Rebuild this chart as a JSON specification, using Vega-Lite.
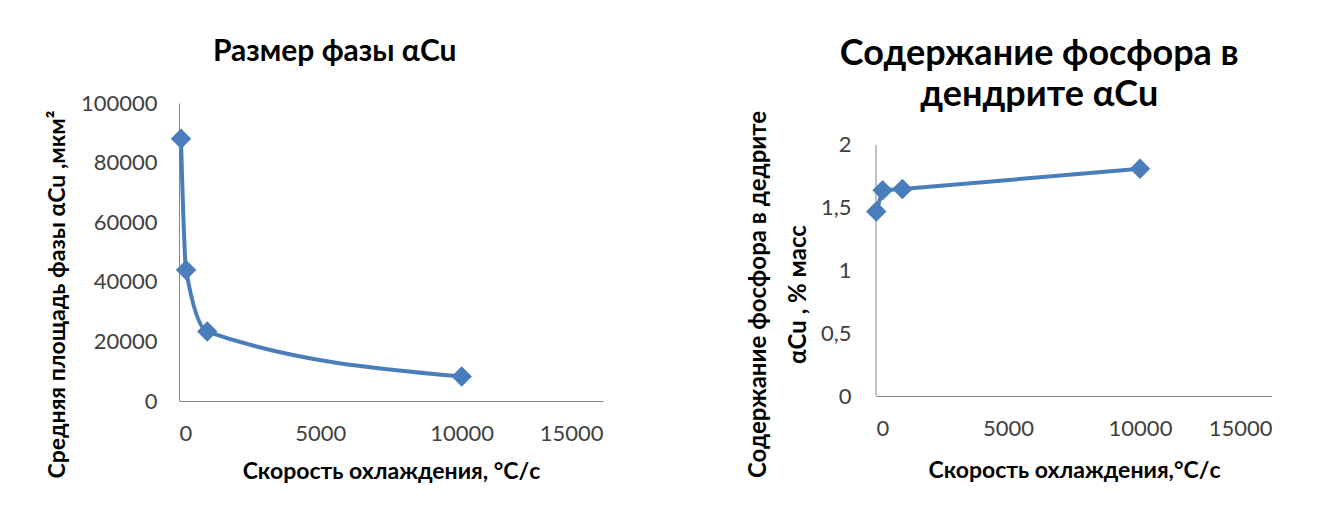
{
  "$schema": "https://vega.github.io/schema/vega-lite/v6.json",
  "background": "white",
  "padding": {"left": 46, "top": 36, "right": 0, "bottom": 0},
  "config": {
    "font": "Lato",
    "view": {"stroke": null},
    "axis": {
      "grid": false,
      "ticks": false,
      "domainColor": "#868686",
      "domainWidth": 1,
      "labelColor": "#404040",
      "labelFont": "Lato",
      "labelFontSize": 22,
      "labelPadding": 22,
      "titleFont": "Lato",
      "titleFontSize": 23,
      "titleFontWeight": "bold",
      "titleColor": "#000000"
    },
    "title": {"font": "Lato", "fontWeight": "bold", "color": "#000000", "anchor": "middle", "frame": "bounds", "lineHeight": 41}
  },
  "spacing": 143,
  "hconcat": [
    {
      "title": {"text": "Размер фазы αCu", "offset": 25, "dx": 10, "fontSize": 30},
      "width": 424,
      "height": 298,
      "data": {
        "values": [
          {"rate": 70, "area": 88000},
          {"rate": 250, "area": 44000},
          {"rate": 1000, "area": 23300},
          {"rate": 10000, "area": 8200}
        ]
      },
      "encoding": {
        "x": {
          "field": "rate",
          "type": "quantitative",
          "scale": {"domain": [0, 15000], "nice": false},
          "axis": {"values": [0, 5000, 10000, 15000], "format": "d", "title": "Скорость охлаждения, °C/с", "titlePadding": 16}
        },
        "y": {
          "field": "area",
          "type": "quantitative",
          "scale": {"domain": [0, 100000], "nice": false},
          "axis": {"values": [0, 20000, 40000, 60000, 80000, 100000], "format": "d", "title": "Средняя площадь фазы αCu ,мкм²", "titlePadding": 11, "titleY": 191}
        }
      },
      "layer": [
        {"mark": {"type": "line", "interpolate": "monotone", "color": "#4A7EBB", "strokeWidth": 4}},
        {"mark": {"type": "point", "shape": "diamond", "filled": true, "size": 420, "color": "#4A7EBB", "opacity": 1}}
      ]
    },
    {
      "title": {"text": ["Содержание фосфора в", "дендрите αCu"], "offset": 0, "dy": 11, "dx": 30, "fontSize": 36},
      "width": 396,
      "height": 293,
      "layer": [
        {
          "data": {"values": [{"x0": 0, "ylo": 0, "yhi": 2}]},
          "mark": {"type": "rule", "color": "#868686", "strokeWidth": 1},
          "encoding": {
            "x": {"field": "x0", "type": "quantitative"},
            "y": {"field": "ylo", "type": "quantitative"},
            "y2": {"field": "yhi"}
          }
        },
        {
          "data": {
            "values": [
              {"rate": 10, "p": 1.47},
              {"rate": 250, "p": 1.64},
              {"rate": 1000, "p": 1.65},
              {"rate": 10000, "p": 1.81}
            ]
          },
          "mark": {"type": "line", "color": "#4A7EBB", "strokeWidth": 4},
          "encoding": {
            "x": {"field": "rate", "type": "quantitative"},
            "y": {"field": "p", "type": "quantitative"}
          }
        },
        {
          "data": {
            "values": [
              {"rate": 10, "p": 1.47},
              {"rate": 250, "p": 1.64},
              {"rate": 1000, "p": 1.65},
              {"rate": 10000, "p": 1.81}
            ]
          },
          "mark": {"type": "point", "shape": "diamond", "filled": true, "size": 420, "color": "#4A7EBB", "opacity": 1},
          "encoding": {
            "x": {
              "field": "rate",
              "type": "quantitative",
              "scale": {"domain": [0, 15000], "nice": false},
              "axis": {"values": [0, 5000, 10000, 15000], "format": "d", "title": "Скорость охлаждения,°C/с", "titlePadding": 20}
            },
            "y": {
              "field": "p",
              "type": "quantitative",
              "scale": {"domain": [0, 2.33466], "nice": false},
              "axis": {"values": [0, 0.5, 1, 1.5, 2], "domain": false, "format": ".1~f", "labelExpr": "replace(datum.label, '.', ',')", "labelPadding": 25, "title": ["Содержание фосфора в дедрите", "αCu , % масс"], "titleFontSize": 24, "titleLineHeight": 40, "titlePadding": 10, "titleY": 191}
            }
          }
        }
      ]
    }
  ]
}
